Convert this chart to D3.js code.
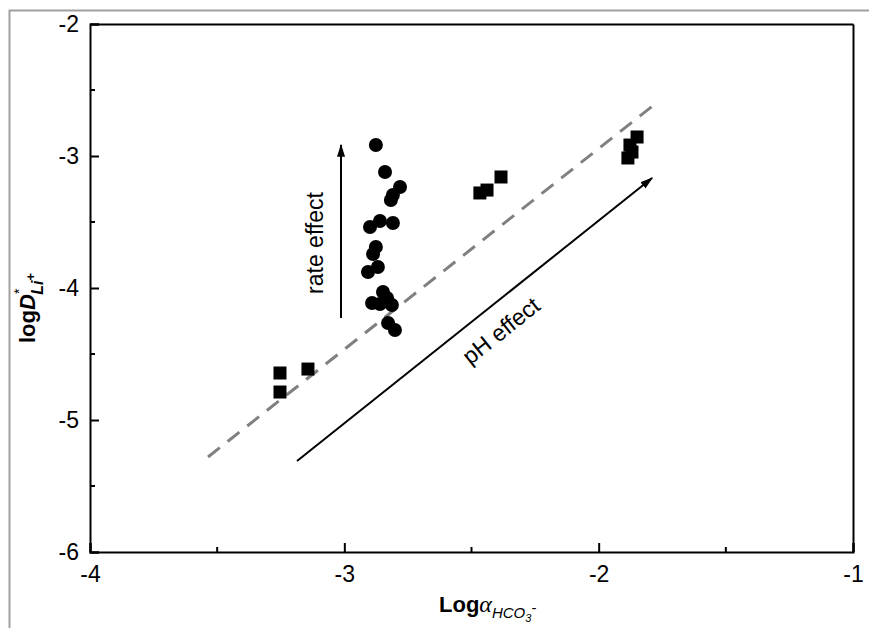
<!DOCTYPE html>
<html>
<head>
<meta charset="utf-8">
<script src="https://cdn.jsdelivr.net/npm/d3@7"></script>
<style>
  html, body { margin: 0; padding: 0; background: #fff; }
  svg { display: block; font-family: "Liberation Sans", Arial, sans-serif; }
</style>
</head>
<body>
<svg id="chart" width="869" height="628"></svg>
<script>
// Circles: rate-effect experiments (log a_HCO3-, log D*Li+)
const circleX = [-2.876, -2.840, -2.781, -2.809, -2.817, -2.899, -2.860, -2.809, -2.876, -2.887,
                 -2.907, -2.868, -2.848, -2.832, -2.891, -2.813, -2.860, -2.828, -2.801];
const circleY = [-2.917, -3.121, -3.235, -3.295, -3.333, -3.538, -3.492, -3.508, -3.689, -3.742,
                 -3.879, -3.841, -4.030, -4.076, -4.114, -4.129, -4.121, -4.265, -4.318];

// Squares: pH-effect experiments
const squareX = [-3.253, -3.253, -3.143, -2.467, -2.439, -2.384, -1.849, -1.877, -1.869, -1.885];
const squareY = [-4.644, -4.788, -4.614, -3.280, -3.258, -3.159, -2.856, -2.917, -2.970, -3.015];

// Guide lines: dashed trend and the two effect arrows
const trendLine = [[-3.536, -5.280], [-1.778, -2.606]];
const phArrow   = [[-3.186, -5.311], [-1.790, -3.167]];
const rateArrow = [[-3.013, -4.227], [-3.013, -2.917]];

const xMajor = [-4, -3, -2, -1];
const xMinor = [-3.5, -2.5, -1.5];
const yMajor = [-6, -5, -4, -3, -2];
const yMinor = [-5.5, -4.5, -3.5, -2.5];

const svg = d3.select("#chart");
const mLeft = 90, mRight = 853, mTop = 24, mBottom = 552;

const x = d3.scaleLinear().domain([-4, -1]).range([mLeft, mRight]);
const y = d3.scaleLinear().domain([-6, -2]).range([mBottom, mTop]);

// outer figure frame
svg.append("path")
  .attr("d", `M9.5,628 L9.5,10.5 L869,10.5`)
  .attr("fill", "none").attr("stroke", "#a0a0a0").attr("stroke-width", 2);

svg.append("defs").append("marker")
  .attr("id", "head").attr("viewBox", "0 0 10 10")
  .attr("refX", 9).attr("refY", 5)
  .attr("markerWidth", 13).attr("markerHeight", 10)
  .attr("markerUnits", "userSpaceOnUse")
  .attr("orient", "auto")
  .attr("preserveAspectRatio", "none")
  .append("path").attr("d", "M0,1 L10,5 L0,9 Z").attr("fill", "#000");

const line = d3.line().x(d => x(d[0])).y(d => y(d[1]));

svg.append("path").datum(trendLine).attr("d", line)
  .attr("stroke", "#808080").attr("stroke-width", 3)
  .attr("stroke-dasharray", "15,10").attr("fill", "none");

svg.append("path").datum(phArrow).attr("d", line)
  .attr("stroke", "#000").attr("stroke-width", 2).attr("fill", "none")
  .attr("marker-end", "url(#head)");

svg.append("path").datum(rateArrow).attr("d", line)
  .attr("stroke", "#000").attr("stroke-width", 2).attr("fill", "none")
  .attr("marker-end", "url(#head)");

// data marks
svg.append("g").selectAll("circle").data(circleX).join("circle")
  .attr("cx", d => x(d)).attr("cy", (d, i) => y(circleY[i])).attr("r", 7).attr("fill", "#000");

const sq = 13;
svg.append("g").selectAll("rect").data(squareX).join("rect")
  .attr("x", d => x(d) - sq / 2).attr("y", (d, i) => y(squareY[i]) - sq / 2)
  .attr("width", sq).attr("height", sq).attr("fill", "#000");

// axes (ticks inward, mirrored box); labels use a plain hyphen
const tickFont = 23;
const fmt = d => String(d);
const xAxisB = d3.axisBottom(x).tickValues(xMajor).tickSize(-9).tickPadding(14).tickFormat(fmt);
const xAxisT = d3.axisTop(x).tickValues(xMajor).tickSize(0).tickFormat("");
const yAxisL = d3.axisLeft(y).tickValues(yMajor).tickSize(-9).tickPadding(11).tickFormat(fmt);
const yAxisR = d3.axisRight(y).tickValues(yMajor).tickSize(0).tickFormat("");

function style(g) {
  g.select(".domain").attr("stroke", "#000").attr("stroke-width", 2);
  g.selectAll(".tick line").attr("stroke", "#000").attr("stroke-width", 2);
  g.selectAll(".tick text").attr("font-size", tickFont).attr("fill", "#000")
    .attr("font-family", "Liberation Sans, Arial, sans-serif");
}

svg.append("g").attr("transform", `translate(0,${mBottom})`).call(xAxisB).call(style);
svg.append("g").attr("transform", `translate(0,${mTop})`).call(xAxisT).call(style);
svg.append("g").attr("transform", `translate(${mLeft},0)`).call(yAxisL).call(style);
svg.append("g").attr("transform", `translate(${mRight},0)`).call(yAxisR).call(style);

// minor ticks
svg.append("g").selectAll("line").data(xMinor).join("line")
  .attr("x1", d => x(d)).attr("x2", d => x(d)).attr("y1", mBottom).attr("y2", mBottom - 5)
  .attr("stroke", "#000").attr("stroke-width", 2);
svg.append("g").selectAll("line").data(yMinor).join("line")
  .attr("y1", d => y(d)).attr("y2", d => y(d)).attr("x1", mLeft).attr("x2", mLeft + 5)
  .attr("stroke", "#000").attr("stroke-width", 2);

// annotations
svg.append("text")
  .attr("transform", `translate(323,243) rotate(-90)`)
  .attr("text-anchor", "middle").attr("font-size", 23).text("rate effect");

const p0 = [x(phArrow[0][0]), y(phArrow[0][1])], p1 = [x(phArrow[1][0]), y(phArrow[1][1])];
const ang = Math.atan2(p1[1] - p0[1], p1[0] - p0[0]) * 180 / Math.PI;
svg.append("text")
  .attr("transform", `translate(506,337) rotate(${ang})`)
  .attr("text-anchor", "middle").attr("font-size", 23).text("pH effect");

// axis titles
const yt = svg.append("text")
  .attr("transform", `translate(35,343) rotate(-90)`)
  .attr("text-anchor", "start").attr("font-size", 22).attr("font-weight", "bold");
yt.append("tspan").text("log");
yt.append("tspan").attr("font-style", "italic").text("D");
yt.append("tspan").attr("font-size", 14).attr("font-weight", "normal").attr("dy", -11).text("*");
yt.append("tspan").attr("font-size", 16).attr("font-style", "italic").attr("dx", -6).attr("dy", 19).text("Li");
yt.append("tspan").attr("font-size", 13).attr("dy", -8).text("+");

const xt = svg.append("text").attr("x", 439).attr("y", 612).attr("font-size", 22);
xt.append("tspan").attr("font-weight", "bold").text("Log");
xt.append("tspan").attr("font-style", "italic").attr("font-family", "Liberation Serif, serif").attr("font-size", 24).text("α");
xt.append("tspan").attr("font-style", "italic").attr("font-size", 15).attr("dy", 6).text("HCO");
xt.append("tspan").attr("font-style", "italic").attr("font-size", 11).attr("dy", 4).text("3");
xt.append("tspan").attr("font-size", 15).attr("dy", -9).text("-");
</script>
</body>
</html>
